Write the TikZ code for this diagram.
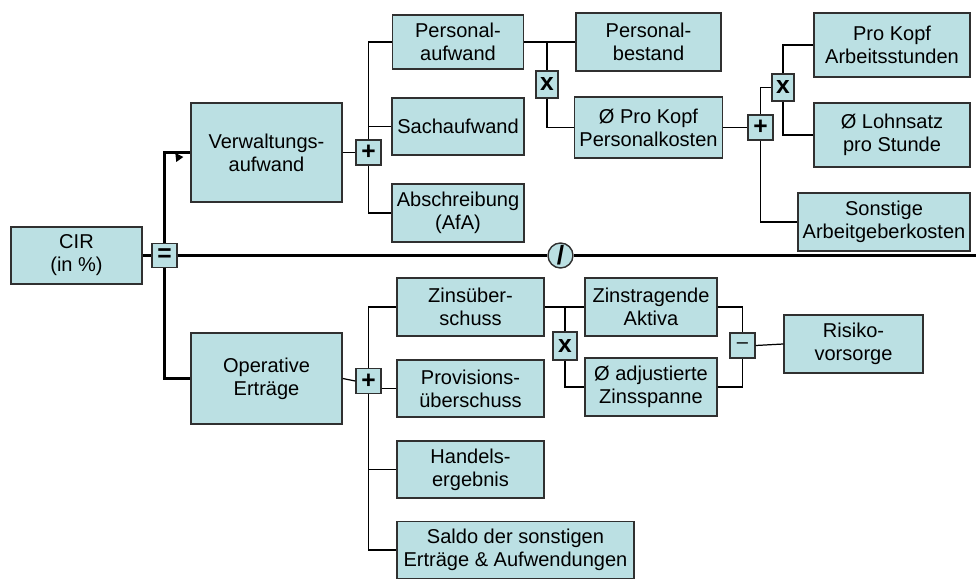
\documentclass[tikz,border=0pt]{standalone}
\usepackage{fontspec}
\setmainfont{Liberation Sans}
\usetikzlibrary{calc}
\definecolor{boxfill}{HTML}{BBE0E3}
\definecolor{boxline}{HTML}{303030}

\begin{document}
\begin{tikzpicture}[font=\fontsize{11.4}{13.1}\selectfont,
  box/.style={rectangle, draw=boxline, fill=boxfill, line width=0.8pt, align=center, inner sep=0pt},
  op/.style={rectangle, draw=boxline, fill=boxfill, line width=0.8pt, minimum width=5mm, minimum height=5mm, inner sep=0pt, font=\fontsize{14}{14}\selectfont\bfseries},
  link/.style={line width=0.7pt},
  trunk/.style={line width=1.7pt}]
\useasboundingbox (0,0) rectangle (19.52,-11.58);
%\draw (0,0) rectangle (19.52,-11.58);


\coordinate (cir) at (1.53,-5.11);
\coordinate (eq) at ($(cir) + (1.76,0)$);
\coordinate (verw) at ($(eq) + (2.04,2.06)$);
\coordinate (oper) at ($(eq) + (2.04,-2.46)$);
\coordinate (plusv) at ($(verw) + (2.04,0)$);
\coordinate (pluso) at ($(oper) + (2.04,-0.05)$);
\coordinate (div) at ($(eq) + (7.92,0)$);
\coordinate (rand) at ($(eq) + (16.23,0)$);

% Verwaltungsaufwand
\coordinate (pers) at ($(plusv) + (1.79,2.21)$);
\coordinate (sach) at ($(pers) + (0,-1.69)$);
\coordinate (afa) at ($(sach) + (0,-1.73)$);
\coordinate (timesp) at ($(pers) + (1.78,-0.85)$);
\coordinate (bestand) at ($(pers) + (3.81,0)$);
\coordinate (kopfkost) at ($(bestand) + (0,-1.71)$);
\coordinate (plusk) at ($(kopfkost) + (2.24,0)$);
\coordinate (timesk) at ($(plusk) + (0.45,0.80)$);
\coordinate (stunden) at ($(timesk) + (2.18,0.85)$);
\coordinate (lohn) at ($(stunden) + (0,-1.80)$);
\coordinate (sonst) at ($(lohn) + (-0.16,-1.74)$);

% Operative Ertraege
\coordinate (zins) at ($(pluso) + (2.04,1.48)$);
\coordinate (prov) at ($(zins) + (0,-1.63)$);
\coordinate (handel) at ($(prov) + (0,-1.62)$);
\coordinate (saldo) at ($(handel) + (0.90,-1.61)$);
\coordinate (timesz) at ($(zins) + (1.89,-0.78)$);
\coordinate (aktiva) at ($(zins) + (3.61,0)$);
\coordinate (spanne) at ($(aktiva) + (0,-1.60)$);
\coordinate (minus) at ($(aktiva) + (1.83,-0.77)$);
\coordinate (risiko) at ($(minus) + (2.22,0.03)$);



\node (c) [box, minimum width=2.62cm, minimum height=1.14cm] at (cir) {CIR\\(in \%)};
\node (e) [op, minimum width=5mm, minimum height=4.8mm] at (eq) {=};
\node (v) [box, minimum width=3.02cm, minimum height=1.98cm] at (verw) {Verwaltungs-\\aufwand};
\node (o) [box, minimum width=3.02cm, minimum height=1.82cm] at (oper) {Operative\\Erträge};
\node (pv) [op] at (plusv) {+};
\node (po) [op] at (pluso) {+};
\node (d) [circle, draw=boxline, fill=boxfill, line width=0.8pt, minimum size=5mm, inner sep=0pt, font=\fontsize{15}{15}\selectfont\bfseries] at (div) {/};

\node (p) [box, minimum width=2.62cm, minimum height=1.08cm] at (pers) {Personal-\\aufwand};
\node (s) [box, minimum width=2.64cm, minimum height=1.14cm] at (sach) {Sachaufwand};
\node (a) [box, minimum width=2.64cm, minimum height=1.16cm] at (afa) {Abschreibung\\(AfA)};
\node (tp) [op, minimum width=4.4mm, minimum height=5.4mm] at (timesp) {x};
\node (b) [box, minimum width=2.9cm, minimum height=1.16cm] at (bestand) {Personal-\\bestand};
\node (k) [box, minimum width=2.96cm, minimum height=1.22cm] at (kopfkost) {Ø Pro Kopf\\Personalkosten};
\node (pk) [op] at (plusk) {+};
\node (tk) [op, minimum width=4.4mm, minimum height=5.4mm] at (timesk) {x};
\node (st) [box, minimum width=3.12cm, minimum height=1.28cm] at (stunden) {Pro Kopf\\Arbeitsstunden};
\node (l) [box, minimum width=3.12cm, minimum height=1.28cm] at (lohn) {Ø Lohnsatz\\pro Stunde};
\node (ag) [box, minimum width=3.44cm, minimum height=1.16cm] at (sonst) {Sonstige\\Arbeitgeberkosten};

\node (z) [box, minimum width=2.94cm, minimum height=1.16cm] at (zins) {Zinsüber-\\schuss};
\node (pr) [box, minimum width=2.94cm, minimum height=1.14cm] at (prov) {Provisions-\\überschuss};
\node (h) [box, minimum width=2.94cm, minimum height=1.14cm] at (handel) {Handels-\\ergebnis};
\node (sa) [box, minimum width=4.74cm, minimum height=1.14cm] at (saldo) {Saldo der sonstigen\\Erträge \& Aufwendungen};
\node (tz) [op, minimum width=4.8mm, minimum height=5.6mm] at (timesz) {x};
\node (ak) [box, minimum width=2.64cm, minimum height=1.16cm] at (aktiva) {Zinstragende\\Aktiva};
\node (sp) [box, minimum width=2.64cm, minimum height=1.16cm] at (spanne) {Ø adjustierte\\Zinsspanne};
\node (m) [op, font=\fontsize{11.4}{11.4}\selectfont] at (minus) {\textendash};
\node (r) [box, minimum width=2.78cm, minimum height=1.16cm] at (risiko) {Risiko-\\vorsorge};

% main tree
\draw [trunk] (c.east) -- (e.west);
\draw [trunk] (e.north) |- (v.west);
\draw [trunk] (e.south) |- (o.west);
\draw [trunk] (e.east) -- (d.west);
\draw [trunk] (d.east) -- (rand);
\fill ($(v.west) + (-0.30,-0.01)$) -- ++(0.16,-0.08) -- ++(-0.14,-0.10) -- cycle;

% Verwaltungsaufwand
\draw [link] (v.east) -- (pv.west);
\draw [link] (pv.north) |- (p.west);
\draw [link] (pv.north) |- (s.west);
\draw [link] (pv.south) |- (a.west);
\draw [link] (p.east) -- (b.west);
\draw [link] (tp.north) |- (b.west);
\draw [link] (tp.south) |- (k.west);
\draw [link] (k.east) -- (pk.west);
\draw [link] (pk.north) |- (tk.west);
\draw [link] (pk.south) |- (ag.west);
\draw [link] (tk.north) |- (st.west);
\draw [link] (tk.south) |- (l.west);

% Operative Ertraege
\draw [link] (o.east) -- (po.west);
\draw [link] (po.north) |- (z.west);
\draw [link] (po.east |- pr.west) -- (pr.west);
\draw [link] (po.south) |- (h.west);
\draw [link] (po.south) |- (sa.west);
\draw [link] (z.east) -- (ak.west);
\draw [link] (tz.north) |- (ak.west);
\draw [link] (tz.south) |- (sp.west);
\draw [link] (ak.east) -| (m.north);
\draw [link] (sp.east) -| (m.south);
\draw [link] (m.east) -- (r.west);

\end{tikzpicture}
\end{document}
